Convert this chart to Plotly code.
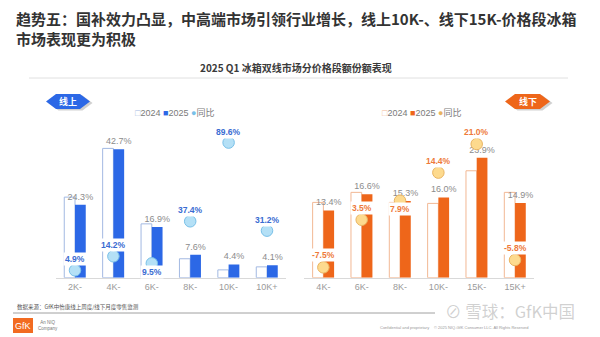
import plotly.graph_objects as go

# ---------------- data ----------------
online_cats = ["2K-", "4K-", "6K-", "8K-", "10K-", "10K+"]
online_2024 = [26.8, 43.0, 17.9, 6.3, 2.6, 3.6]
online_2025 = [24.3, 42.7, 16.9, 7.6, 4.4, 4.1]
online_yoy = [4.9, 14.2, 9.5, 37.4, 89.6, 31.2]

offline_cats = ["4K-", "6K-", "8K-", "10K-", "15K-", "15K+"]
offline_2024 = [15.0, 17.0, 15.0, 14.8, 21.3, 17.0]
offline_2025 = [13.4, 16.6, 15.3, 16.0, 23.9, 14.9]
offline_yoy = [-7.5, 3.5, 7.9, 14.4, 21.0, -5.8]

title_l1 = "趋势五：国补效力凸显，中高端市场引领行业增长，线上10K-、线下15K-价格段冰箱"
title_l2 = "市场表现更为积极"
subtitle = "2025 Q1 冰箱双线市场分价格段额份额表现"
source = "数据来源：GfK中怡康线上周度/线下月度零售监测"

# ---------------- style ----------------
W, H = 600, 337
FONT = "Liberation Sans, Noto Sans CJK SC, sans-serif"
CJK = "Noto Sans CJK SC, sans-serif"
BLUE = "#2c68e6"
BLUE_OUT = "#a3b9e2"
BLUE_DOT = "#b4e0f6"
BLUE_DOT_LINE = "#78c0e8"
BLUE_TXT = "#3a6cd2"
ORANGE = "#ee661a"
ORANGE_OUT = "#f2b894"
ORANGE_DOT = "#fdda8e"
ORANGE_DOT_LINE = "#e9b461"
ORANGE_TXT = "#ee7a3a"
GRAY_TXT = "#8c8c8c"


def px(x):
    return x / W


def py(y):
    return 1 - y / H


fig = go.Figure()

# left (online)
fig.add_trace(go.Bar(x=online_cats, y=online_2024, name="2024", marker=dict(color="white", line=dict(color=BLUE_OUT, width=1)),
                     xaxis="x", yaxis="y", showlegend=False))
fig.add_trace(go.Bar(x=online_cats, y=online_2025, name="2025", marker=dict(color=BLUE, line=dict(width=0)),
                     text=[f"{v:.1f}%" for v in online_2025], textposition="outside", constraintext="none",
                     cliponaxis=False, textfont=dict(color=GRAY_TXT, size=9, family=FONT),
                     xaxis="x", yaxis="y", showlegend=False))
fig.add_trace(go.Scatter(x=online_cats, y=online_yoy, mode="markers", name="同比",
                         marker=dict(size=11.5, color=BLUE_DOT, line=dict(color=BLUE_DOT_LINE, width=1)),
                         xaxis="x", yaxis="y2", showlegend=False, cliponaxis=False))

# right (offline)
fig.add_trace(go.Bar(x=offline_cats, y=offline_2024, name="2024", marker=dict(color="white", line=dict(color=ORANGE_OUT, width=1)),
                     xaxis="x2", yaxis="y3", showlegend=False))
fig.add_trace(go.Bar(x=offline_cats, y=offline_2025, name="2025", marker=dict(color=ORANGE, line=dict(width=0)),
                     text=[f"{v:.1f}%" for v in offline_2025], textposition="outside", constraintext="none",
                     cliponaxis=False, textfont=dict(color=GRAY_TXT, size=9, family=FONT),
                     xaxis="x2", yaxis="y3", showlegend=False))
fig.add_trace(go.Scatter(x=offline_cats, y=offline_yoy, mode="markers", name="同比",
                         marker=dict(size=11.5, color=ORANGE_DOT, line=dict(color=ORANGE_DOT_LINE, width=1)),
                         xaxis="x2", yaxis="y4", showlegend=False, cliponaxis=False))

ydom = [py(277.7), py(125)]
axis_common = dict(showgrid=False, zeroline=False, showticklabels=False, fixedrange=True)

fig.update_layout(
    width=W, height=H, margin=dict(l=0, r=0, t=0, b=0),
    paper_bgcolor="white", plot_bgcolor="rgba(0,0,0,0)",
    barmode="group", bargap=0.44, bargroupgap=0,
    font=dict(family=FONT, color="#666"),
    xaxis=dict(domain=[px(55.8), px(286.2)], anchor="y", range=[-0.5, 5.5], showline=True, linecolor="#d9d9d9",
               linewidth=1, ticks="", tickfont=dict(size=9, color="#9a9a9a", family=FONT), showgrid=False),
    yaxis=dict(domain=ydom, anchor="x", range=[0, 152.7 / 3.007], **axis_common),
    yaxis2=dict(overlaying="y", anchor="x", range=[0, 152.7 / 1.508], **axis_common),
    xaxis2=dict(domain=[px(304.2), px(534.2)], anchor="y3", range=[-0.5, 5.5], showline=True, linecolor="#d9d9d9",
                linewidth=1, ticks="", tickfont=dict(size=9, color="#9a9a9a", family=FONT), showgrid=False),
    yaxis3=dict(domain=ydom, anchor="x2", range=[0, 152.7 / 5.02], **axis_common),
    yaxis4=dict(overlaying="y3", anchor="x2", range=[-42.8 / 4.326, -42.8 / 4.326 + 152.7 / 4.326], **axis_common),
)

ann = []


def note(x, y, text, size, color, family=FONT, xanchor="center", **kw):
    ann.append(dict(x=px(x), y=py(y), xref="paper", yref="paper", xanchor=xanchor, yanchor="middle",
                    showarrow=False, text=text, font=dict(size=size, color=color, family=family), **kw))


# yoy labels (white background cuts through bars)
left_shift = [11, 11, -9, 11, 11, 11]
for c, v, s in zip(online_cats, online_yoy, left_shift):
    ann.append(dict(x=c, y=v, xref="x", yref="y2", text=f"<b>{v:.1f}%</b>", showarrow=False, yshift=s,
                    xanchor="center", yanchor="middle",
                    font=dict(size=8.5, color=BLUE_TXT, family=FONT), bgcolor="white", borderpad=1))
right_shift = [12, 12, -8, 12, 12, 12]
for c, v, s in zip(offline_cats, offline_yoy, right_shift):
    ann.append(dict(x=c, y=v, xref="x2", yref="y4", text=f"<b>{v:.1f}%</b>", showarrow=False, yshift=s,
                    xanchor="center", yanchor="middle",
                    font=dict(size=8.5, color=ORANGE_TXT, family=FONT), bgcolor="white", borderpad=1))

# legends (compact, as in the reference)
note(174, 113, f"<span style='color:{BLUE_OUT}'>□</span>2024 <span style='color:{BLUE}'>■</span>2025 "
               f"<span style='color:{BLUE_DOT_LINE}'>●</span>同比", 9, "#7a7a7a")
note(421.5, 113, f"<span style='color:{ORANGE_OUT}'>□</span>2024 <span style='color:{ORANGE}'>■</span>2025 "
                 f"<span style='color:{ORANGE_DOT_LINE}'>●</span>同比", 9, "#7a7a7a")

# titles
note(14, 19, f"<b>{title_l1}</b>", 15, "#333333", CJK, xanchor="left")
note(14, 38, f"<b>{title_l2}</b>", 15, "#333333", CJK, xanchor="left")
note(296, 68, f"<b>{subtitle}</b>", 10, "#3a3a3a", CJK)

# badge texts
note(68, 101.5, "<b>线上</b>", 9, "white", CJK)
note(527.5, 101.5, "<b>线下</b>", 9, "white", CJK)

# footer
note(15, 307, source, 5.5, "#555", CJK, xanchor="left")
note(23, 325.5, "GfK", 9, "white")
note(36, 325.5, "An NIQ<br>Company", 4.5, "#777", xanchor="left")
note(378, 327, "Confidential and proprietary", 4, "#999", xanchor="left")
note(432, 327, "© 2025 NIQ-GfK Consumer LLC. All Rights Reserved", 4, "#999", xanchor="left")
note(510, 311, "⊘ 雪球：GfK中国", 16.5, "rgba(170,170,170,0.55)", CJK)

fig.update_layout(annotations=ann)


def poly(points):
    return "M " + " L ".join(f"{px(x):.5f},{py(y):.5f}" for x, y in points) + " Z"


shapes = [
    dict(type="line", xref="paper", yref="paper", x0=px(29), x1=px(568), y0=py(78), y1=py(78),
         line=dict(color="#e0e0e0", width=1), layer="below"),
    dict(type="line", xref="paper", yref="paper", x0=px(13), x1=px(435), y0=py(313), y1=py(313),
         line=dict(color="#888", width=0.8), layer="below"),
    dict(type="rect", xref="paper", yref="paper", x0=px(13), x1=px(33), y0=py(333), y1=py(318),
         fillcolor="#f26b21", line=dict(width=0), layer="below"),
]


def badge(x0, x1, col):
    for dx, c in [(2.5, "rgba(120,120,120,0.35)"), (0, col)]:
        dy = dx * 0.6
        shapes.append(dict(type="path", xref="paper", yref="paper", fillcolor=c, line=dict(width=0), layer="below",
                           path=poly([(x0 + dx, 101.5 + dy), (x0 + 10 + dx, 94 + dy), (x1 - 10 + dx, 94 + dy),
                                      (x1 + dx, 101.5 + dy), (x1 - 10 + dx, 109 + dy), (x0 + 10 + dx, 109 + dy)])))


badge(46, 90, BLUE)
badge(505, 550, ORANGE)
fig.update_layout(shapes=shapes)

fig.write_html("out.html")
